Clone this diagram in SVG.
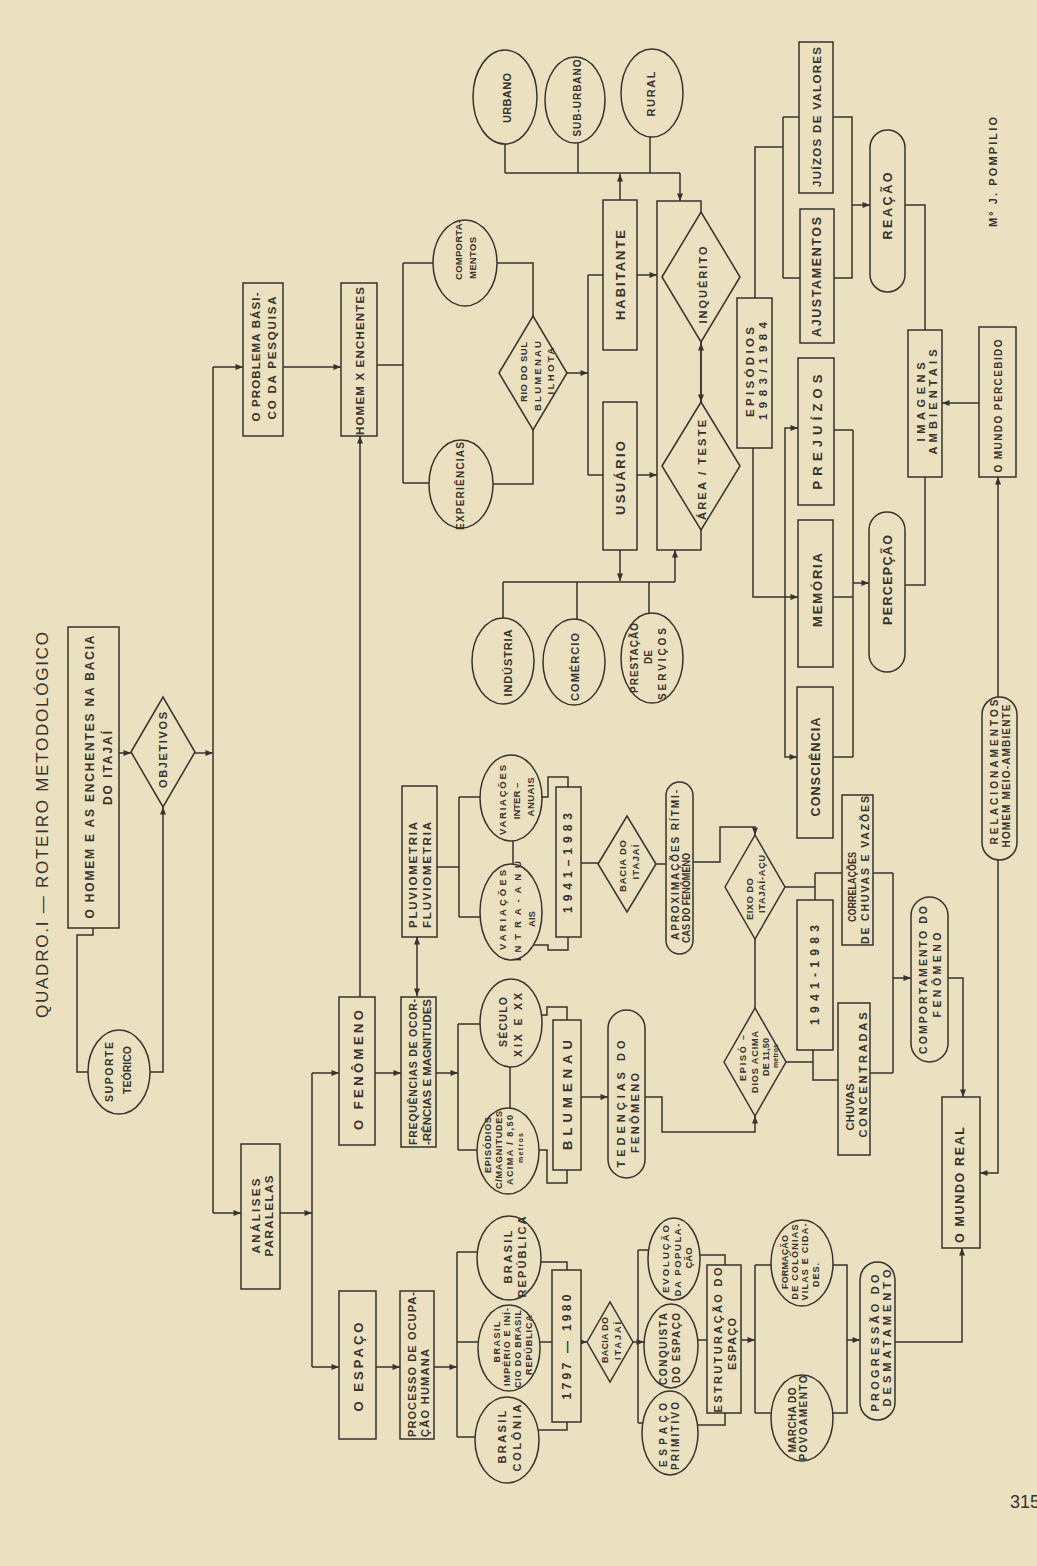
<svg xmlns="http://www.w3.org/2000/svg" width="1037" height="1566" viewBox="0 0 1037 1566">
<defs>
<style>
.s{fill:none;stroke:#37332e;stroke-width:1.5}
.n{fill:#ebe0c0;stroke:#37332e;stroke-width:1.5}
.f{fill:none;stroke:#37332e;stroke-width:1.5}
text{font-family:"Liberation Sans",Arial,sans-serif;font-weight:bold;fill:#37332e;text-anchor:middle;dominant-baseline:central}
</style>
<marker id="a" viewBox="0 0 10 8" refX="10" refY="4" markerWidth="8" markerHeight="6" markerUnits="userSpaceOnUse" orient="auto-start-reverse"><path d="M0,0L10,4L0,8z" fill="#37332e"/></marker>
</defs>
<rect width="1037" height="1566" fill="#ebe0c0"/>
<text transform="translate(42 825) rotate(-90)" font-size="17" font-weight="normal" style="font-weight:normal" textLength="386">QUADRO.I — ROTEIRO METODOLÓGICO</text>

<g id="connectors" class="s">
<path d="M119 753H131" marker-end="url(#a)"/>
<path d="M195 753H213" marker-end="url(#a)"/>
<path d="M213 367V1213"/>
<path d="M213 367H243" marker-end="url(#a)"/>
<path d="M213 1213H241" marker-end="url(#a)"/>
<path d="M283 367H341" marker-end="url(#a)"/>
<path d="M93 928V935H77V1072H88"/>
<path d="M150 1072H163V807" marker-end="url(#a)"/>
<path d="M280 1213H312" marker-end="url(#a)"/>
<path d="M312 1073V1367"/>
<path d="M312 1073H339" marker-end="url(#a)"/>
<path d="M312 1367H339" marker-end="url(#a)"/>
<path d="M360 997V436" marker-end="url(#a)"/>
<path d="M376 1367H400" marker-end="url(#a)"/>
<path d="M434 1367H457" marker-end="url(#a)"/>
<path d="M457 1252V1437M457 1252H477M457 1342H478M457 1437H476"/>
<path d="M541 1262H567V1270M539 1430H567V1422M540 1342H552"/>
<path d="M581 1342H587" marker-end="url(#a)"/>
<path d="M633 1342H644" marker-end="url(#a)"/>
<path d="M638 1250V1423M638 1250H648M638 1423H643"/>
<path d="M700 1255H725V1265M697 1425H725V1413M698 1340H707"/>
<path d="M741 1340H755" marker-end="url(#a)"/>
<path d="M755 1265V1413M755 1265H772M755 1413H772M833 1265H847V1413H833"/>
<path d="M847 1340H860" marker-end="url(#a)"/>
<path d="M895 1342H962V1248" marker-end="url(#a)"/>
<path d="M375 1073H401" marker-end="url(#a)"/>
<path d="M417 996V937" marker-start="url(#a)" marker-end="url(#a)"/>
<path d="M436 1073H458" marker-end="url(#a)"/>
<path d="M458 1024V1150M458 1024H480M458 1150H477M510 1067V1108"/>
<path d="M541 1015H547V1007H567V1020M538 1150H547V1183H567V1170"/>
<path d="M581 1097H608" marker-end="url(#a)"/>
<path d="M645 1097H662V1132H755V1116" marker-end="url(#a)"/>
<path d="M755 1008V939M786 1062H813M813 1050V1080H838M785 887H815M815 873V900M815 873H842"/>
<path d="M693 862H720V827H755V835" marker-end="url(#a)"/>
<path d="M656 864H666M581 863H598M437 867H459M459 797V917M459 797H480M459 917H480M513 841V864"/>
<path d="M542 797H548V777H568V787M534 945H548V950H568V937"/>
<path d="M873 873H893M870 1073H893M893 873V1073"/>
<path d="M893 978H911" marker-end="url(#a)"/>
<path d="M948 978H963V1097" marker-end="url(#a)"/>
<path d="M998 860V1173H980" marker-end="url(#a)"/>
<path d="M998 697V477" marker-end="url(#a)"/>
<path d="M979 403H942" marker-end="url(#a)"/>
<path d="M925 477V585H905M905 205H925V330M833 117H852V278H834"/>
<path d="M852 205H870" marker-end="url(#a)"/>
<path d="M755 298V147H783M783 117V278M783 117H799M783 278H800"/>
<path d="M753 448V597H798" marker-end="url(#a)"/>
<path d="M785 597V428H798" marker-end="url(#a)"/>
<path d="M785 597V757H797" marker-end="url(#a)"/>
<path d="M834 430H853M833 757H853M853 430V757M833 597H853"/>
<path d="M853 583H869" marker-end="url(#a)"/>
<path d="M620 200V174" marker-end="url(#a)"/>
<path d="M505 173H680M505 144V173M578 143V173M650 137V173"/>
<path d="M680 173V201" marker-end="url(#a)"/>
<path d="M620 550V581" marker-end="url(#a)"/>
<path d="M503 582H675M503 618V582M577 619V582M649 613V582"/>
<path d="M675 582V550" marker-end="url(#a)"/>
<path d="M567 373H588" marker-end="url(#a)"/>
<path d="M588 275V475M588 275H603M588 475H603"/>
<path d="M637 275H657" marker-end="url(#a)"/>
<path d="M637 475H657" marker-end="url(#a)"/>
<path d="M701 343V402" marker-start="url(#a)" marker-end="url(#a)"/>
<path d="M377 365H403M403 263V483M403 263H433M403 483H429M497 263H533V316M493 484H533V430"/>
</g>

<g id="n_homem_bacia"><rect class="n" x="68" y="627" width="51" height="301"/>
<text transform="translate(90 777) rotate(-90)" font-size="12" textLength="283">O HOMEM E AS ENCHENTES NA BACIA</text>
<text transform="translate(108 768) rotate(-90)" font-size="12" textLength="74">DO ITAJAÍ</text></g>
<g id="n_objetivos"><polygon class="n" points="131,752 163,697 195,752 163,807"/>
<text transform="translate(163 750) rotate(-90)" font-size="11" textLength="76">OBJETIVOS</text></g>
<g id="n_suporte"><ellipse class="n" cx="119" cy="1072" rx="31" ry="42"/>
<text transform="translate(109 1072) rotate(-90)" font-size="10.5" textLength="60">SUPORTE</text>
<text transform="translate(127 1070) rotate(-90)" font-size="10.5" textLength="48">TEÓRICO</text></g>
<g id="n_problema"><rect class="n" x="243" y="283" width="40" height="153"/>
<text transform="translate(256 357) rotate(-90)" font-size="11.5" textLength="129">O PROBLEMA BÁSI-</text>
<text transform="translate(272 358) rotate(-90)" font-size="11.5" textLength="123">CO DA PESQUISA</text></g>
<g id="n_homem_x"><rect class="n" x="341" y="283" width="36" height="153"/>
<text transform="translate(360 361) rotate(-90)" font-size="11.5" textLength="148">HOMEM X ENCHENTES</text></g>
<g id="n_analises"><rect class="n" x="241" y="1144" width="39" height="145"/>
<text transform="translate(256 1216) rotate(-90)" font-size="11.5" textLength="75">ANÁLISES</text>
<text transform="translate(269 1216) rotate(-90)" font-size="11.5" textLength="81">PARALELAS</text></g>
<g id="n_fenomeno"><rect class="n" x="339" y="997" width="36" height="148"/>
<text transform="translate(358 1070) rotate(-90)" font-size="13" textLength="120">O FENÔMENO</text></g>
<g id="n_espaco"><rect class="n" x="339" y="1291" width="37" height="148"/>
<text transform="translate(358 1367) rotate(-90)" font-size="13" textLength="89">O ESPAÇO</text></g>
<g id="n_processo"><rect class="n" x="400" y="1291" width="34" height="148"/>
<text transform="translate(412 1437) rotate(-90)" font-size="11" textLength="145" style="text-anchor:start">PROCESSO DE OCUPA-</text>
<text transform="translate(425 1437) rotate(-90)" font-size="11" textLength="88" style="text-anchor:start">ÇÃO HUMANA</text></g>
<g id="n_frequencias"><rect class="n" x="401" y="997" width="35" height="150"/>
<text transform="translate(413 1072) rotate(-90)" font-size="10.5" textLength="146">FREQUÊNCIAS DE OCOR-</text>
<text transform="translate(427 1072) rotate(-90)" font-size="10.5" textLength="146" lengthAdjust="spacingAndGlyphs">-RÊNCIAS E MAGNITUDES</text></g>
<g id="n_pluviometria"><rect class="n" x="402" y="786" width="35" height="151"/>
<text transform="translate(413 875) rotate(-90)" font-size="11.5" textLength="106">PLUVIOMETRIA</text>
<text transform="translate(427 875) rotate(-90)" font-size="11.5" textLength="106">FLUVIOMETRIA</text></g>
<g id="n_var_inter"><ellipse class="n" cx="511" cy="798" rx="31" ry="43"/>
<text transform="translate(502 800) rotate(-90)" font-size="9.5" textLength="70">VARIAÇÕES</text>
<text transform="translate(516 801) rotate(-90)" font-size="9.5">INTER –</text>
<text transform="translate(530 797) rotate(-90)" font-size="9.5" textLength="39">ANUAIS</text></g>
<g id="n_var_intra"><ellipse class="n" cx="511" cy="912" rx="31" ry="48"/>
<text transform="translate(502 910) rotate(-90)" font-size="9.5" textLength="80">VARIAÇÕES</text>
<text transform="translate(517 911) rotate(-90)" font-size="9.5" textLength="100">INTRA-ANU</text>
<text transform="translate(531 919) rotate(-90)" font-size="9.5">AIS</text></g>
<g id="n_1941a"><rect class="n" x="556" y="787" width="25" height="150"/>
<text transform="translate(568 863) rotate(-90)" font-size="12" textLength="100">1941–1983</text></g>
<g id="n_bacia_upper"><polygon class="n" points="598,864 627,816 656,864 627,912"/>
<text transform="translate(622 866) rotate(-90)" font-size="9.5" textLength="52">BACIA DO</text>
<text transform="translate(635 862) rotate(-90)" font-size="9.5" textLength="35">ITAJAÍ</text></g>
<g id="n_aproximacoes"><rect class="n" x="666" y="782" width="27" height="172" rx="13.5" ry="13.5"/>
<text transform="translate(675 865) rotate(-90)" font-size="10" textLength="150">APROXIMAÇÕES RÍTMI-</text>
<text transform="translate(686 943) rotate(-90)" font-size="10" textLength="90" lengthAdjust="spacingAndGlyphs" style="text-anchor:start">CAS DO FENÔMENO</text></g>
<g id="n_eixo"><polygon class="n" points="725,887 755,835 785,887 755,939"/>
<text transform="translate(749 899) rotate(-90)" font-size="9.5" textLength="42">EIXO DO</text>
<text transform="translate(762 884) rotate(-90)" font-size="9" textLength="58">ITAJAÍ-AÇU</text></g>
<g id="n_1941b"><rect class="n" x="797" y="900" width="36" height="150"/>
<text transform="translate(815 975) rotate(-90)" font-size="12" textLength="100">1941-1983</text></g>
<g id="n_correlacoes"><rect class="n" x="842" y="795" width="31" height="150"/>
<text transform="translate(852 887) rotate(-90)" font-size="10" textLength="70" lengthAdjust="spacingAndGlyphs">CORRELAÇÕES</text>
<text transform="translate(865 870) rotate(-90)" font-size="10.5" textLength="148">DE CHUVAS E VAZÕES</text></g>
<g id="n_episodios_acima"><polygon class="n" points="724,1062 755,1008 786,1062 755,1116"/>
<text transform="translate(743 1058) rotate(-90)" font-size="9" textLength="46">EPISÓ –</text>
<text transform="translate(755 1062) rotate(-90)" font-size="9" textLength="62">DIOS ACIMA</text>
<text transform="translate(766 1057) rotate(-90)" font-size="9" textLength="38">DE 11,50</text>
<text transform="translate(775 1056) rotate(-90)" font-size="7" textLength="24">metros</text></g>
<g id="n_chuvas"><rect class="n" x="838" y="1003" width="32" height="152"/>
<text transform="translate(850 1107) rotate(-90)" font-size="11" textLength="47">CHUVAS</text>
<text transform="translate(863 1075) rotate(-90)" font-size="11" textLength="125">CONCENTRADAS</text></g>
<g id="n_comportamento"><rect class="n" x="911" y="897" width="37" height="165" rx="18.5" ry="18.5"/>
<text transform="translate(923 980) rotate(-90)" font-size="10.5" textLength="148">COMPORTAMENTO DO</text>
<text transform="translate(937 975) rotate(-90)" font-size="10.5" textLength="85">FENÔMENO</text></g>
<g id="n_tedencias"><rect class="n" x="608" y="1010" width="37" height="168" rx="18.5" ry="18.5"/>
<text transform="translate(621 1104) rotate(-90)" font-size="11" textLength="127">TEDENÇIAS DO</text>
<text transform="translate(635 1113) rotate(-90)" font-size="11" textLength="80">FENÔMENO</text></g>
<g id="n_blumenau"><rect class="n" x="553" y="1020" width="28" height="150"/>
<text transform="translate(567 1095) rotate(-90)" font-size="13" textLength="110">BLUMENAU</text></g>
<g id="n_seculo"><ellipse class="n" cx="511" cy="1023" rx="31" ry="44"/>
<text transform="translate(503 1022) rotate(-90)" font-size="10.5" textLength="50">SÉCULO</text>
<text transform="translate(518 1025) rotate(-90)" font-size="10.5" textLength="64">XIX E XX</text></g>
<g id="n_episodios_mag"><ellipse class="n" cx="508" cy="1151" rx="31" ry="43"/>
<text transform="translate(488 1145) rotate(-90)" font-size="9" textLength="56">EPISÓDIOS</text>
<text transform="translate(499 1150) rotate(-90)" font-size="9" textLength="78">C/MAGNITUDES</text>
<text transform="translate(510 1150) rotate(-90)" font-size="9" textLength="70">ACIMA / 8,50</text>
<text transform="translate(520 1148) rotate(-90)" font-size="7" textLength="30">metros</text></g>
<g id="n_colonia"><ellipse class="n" cx="507" cy="1440" rx="32" ry="43"/>
<text transform="translate(502 1437) rotate(-90)" font-size="11" textLength="53">BRASIL</text>
<text transform="translate(517 1438) rotate(-90)" font-size="11" textLength="67">COLÔNIA</text></g>
<g id="n_imperio"><ellipse class="n" cx="509" cy="1348" rx="31" ry="43"/>
<text transform="translate(497 1342) rotate(-90)" font-size="9" textLength="41">BRASIL</text>
<text transform="translate(507 1347) rotate(-90)" font-size="9" textLength="78">IMPÉRIO E INÍ-</text>
<text transform="translate(518 1349) rotate(-90)" font-size="9" textLength="78">CIO DO BRASIL</text>
<text transform="translate(529 1345) rotate(-90)" font-size="9" textLength="60">REPÚBLICA</text></g>
<g id="n_republica"><ellipse class="n" cx="509" cy="1258" rx="32" ry="42"/>
<text transform="translate(508 1257) rotate(-90)" font-size="11" textLength="53">BRASIL</text>
<text transform="translate(522 1257) rotate(-90)" font-size="11" textLength="81">REPÚBLICA</text></g>
<g id="n_1797"><rect class="n" x="552" y="1270" width="29" height="152"/>
<text transform="translate(567 1347) rotate(-90)" font-size="12" textLength="105">1797 — 1980</text></g>
<g id="n_bacia_lower"><polygon class="n" points="587,1342 610,1302 633,1342 610,1382"/>
<text transform="translate(605 1340) rotate(-90)" font-size="9" textLength="46">BACIA DO</text>
<text transform="translate(618 1341) rotate(-90)" font-size="9" textLength="38">ITAJAÍ</text></g>
<g id="n_esp_primitivo"><ellipse class="n" cx="670" cy="1433" rx="28" ry="42"/>
<text transform="translate(663 1435) rotate(-90)" font-size="10" textLength="64">ESPAÇO</text>
<text transform="translate(675 1436) rotate(-90)" font-size="10" textLength="68">PRIMITIVO</text></g>
<g id="n_conquista"><ellipse class="n" cx="671" cy="1346" rx="27" ry="42"/>
<text transform="translate(663 1349) rotate(-90)" font-size="10" textLength="72">CONQUISTA</text>
<text transform="translate(676 1348) rotate(-90)" font-size="10" textLength="70">DO ESPAÇO</text></g>
<g id="n_evolucao"><ellipse class="n" cx="674" cy="1259" rx="26" ry="41"/>
<text transform="translate(665 1259) rotate(-90)" font-size="9.5" textLength="68">EVOLUÇÃO</text>
<text transform="translate(677 1260) rotate(-90)" font-size="9.5" textLength="73">DA POPULA-</text>
<text transform="translate(688 1258) rotate(-90)" font-size="9.5">ÇÃO</text></g>
<g id="n_estruturacao"><rect class="n" x="707" y="1265" width="34" height="148"/>
<text transform="translate(718 1340) rotate(-90)" font-size="11" textLength="145">ESTRUTURAÇÃO DO</text>
<text transform="translate(732 1344) rotate(-90)" font-size="11" textLength="52">ESPAÇO</text></g>
<g id="n_formacao"><ellipse class="n" cx="802" cy="1263" rx="31" ry="43"/>
<text transform="translate(785 1262) rotate(-90)" font-size="9" textLength="54">FORMAÇÃO</text>
<text transform="translate(795 1262) rotate(-90)" font-size="9" textLength="75">DE COLÔNIAS</text>
<text transform="translate(805 1262) rotate(-90)" font-size="9" textLength="77">VILAS E CIDA-</text>
<text transform="translate(816 1275) rotate(-90)" font-size="9" textLength="24">DES.</text></g>
<g id="n_marcha"><ellipse class="n" cx="802" cy="1418" rx="31" ry="43"/>
<text transform="translate(792 1420) rotate(-90)" font-size="10" textLength="65">MARCHA DO</text>
<text transform="translate(803 1418) rotate(-90)" font-size="10" textLength="85">POVOAMENTO</text></g>
<g id="n_progressao"><rect class="n" x="860" y="1262" width="35" height="158" rx="17.5" ry="17.5"/>
<text transform="translate(875 1343) rotate(-90)" font-size="11" textLength="137">PROGRESSÃO DO</text>
<text transform="translate(887 1338) rotate(-90)" font-size="11" textLength="137">DESMATAMENTO</text></g>
<g id="n_mundo_real"><rect class="n" x="942" y="1097" width="38" height="151"/>
<text transform="translate(960 1185) rotate(-90)" font-size="12.5" textLength="116">O MUNDO REAL</text></g>
<g id="n_comportamentos"><ellipse class="n" cx="465" cy="263" rx="32" ry="43"/>
<text transform="translate(458 250) rotate(-90)" font-size="9.5" textLength="60">COMPORTA-</text>
<text transform="translate(472 258) rotate(-90)" font-size="9.5" textLength="42">MENTOS</text></g>
<g id="n_experiencias"><ellipse class="n" cx="461" cy="484" rx="32" ry="44"/>
<text transform="translate(460 486) rotate(-90)" font-size="10" textLength="88">EXPERIÊNCIAS</text></g>
<g id="n_rio"><polygon class="n" points="499,373 533,316 567,373 533,430"/>
<text transform="translate(523 372) rotate(-90)" font-size="9.5" textLength="60">RIO DO SUL</text>
<text transform="translate(537 376) rotate(-90)" font-size="9.5" textLength="70">BLUMENAU</text>
<text transform="translate(550 371) rotate(-90)" font-size="9.5" textLength="47">ILHOTA</text></g>
<g id="n_habitante"><rect class="n" x="603" y="200" width="34" height="150"/>
<text transform="translate(620 275) rotate(-90)" font-size="13" textLength="90">HABITANTE</text></g>
<g id="n_usuario"><rect class="n" x="603" y="402" width="34" height="148"/>
<text transform="translate(620 478) rotate(-90)" font-size="13" textLength="74">USUÁRIO</text></g>
<g id="n_urbano"><ellipse class="n" cx="505" cy="97" rx="32" ry="47"/>
<text transform="translate(507 98) rotate(-90)" font-size="11" textLength="50">URBANO</text></g>
<g id="n_suburbano"><ellipse class="n" cx="575" cy="100" rx="30" ry="43"/>
<text transform="translate(577 98) rotate(-90)" font-size="10" textLength="77">SUB-URBANO</text></g>
<g id="n_rural"><ellipse class="n" cx="652" cy="93" rx="31" ry="44"/>
<text transform="translate(651 94) rotate(-90)" font-size="11" textLength="45">RURAL</text></g>
<g id="n_frame"><rect class="f" x="657" y="201" width="44" height="349"/></g>
<g id="n_inquerito"><polygon class="n" points="662,277 701,212 740,277 701,342"/>
<text transform="translate(703 285) rotate(-90)" font-size="11" textLength="77">INQUÉRITO</text></g>
<g id="n_area"><polygon class="n" points="662,466 701,402 740,466 701,530"/>
<text transform="translate(702 470) rotate(-90)" font-size="11" textLength="100">ÁREA / TESTE</text></g>
<g id="n_episodios8384"><rect class="n" x="737" y="298" width="35" height="150"/>
<text transform="translate(750 372) rotate(-90)" font-size="11.5" textLength="90">EPISÓDIOS</text>
<text transform="translate(763 371) rotate(-90)" font-size="11.5" textLength="98">1983/1984</text></g>
<g id="n_juizos"><rect class="n" x="799" y="42" width="34" height="151"/>
<text transform="translate(817 117) rotate(-90)" font-size="11.5" textLength="140">JUÍZOS DE VALORES</text></g>
<g id="n_ajustamentos"><rect class="n" x="800" y="209" width="34" height="134"/>
<text transform="translate(817 277) rotate(-90)" font-size="12.5" textLength="120">AJUSTAMENTOS</text></g>
<g id="n_prejuizos"><rect class="n" x="798" y="358" width="36" height="147"/>
<text transform="translate(817 432) rotate(-90)" font-size="13" textLength="115">PREJUÍZOS</text></g>
<g id="n_reacao"><rect class="n" x="870" y="130" width="35" height="162" rx="17.5" ry="17.5"/>
<text transform="translate(888 206) rotate(-90)" font-size="12.5" textLength="67">REAÇÃO</text></g>
<g id="n_imagens"><rect class="n" x="908" y="330" width="34" height="147"/>
<text transform="translate(921 402) rotate(-90)" font-size="11" textLength="79">IMAGENS</text>
<text transform="translate(933 402) rotate(-90)" font-size="11" textLength="105">AMBIENTAIS</text></g>
<g id="n_mundo_percebido"><rect class="n" x="979" y="327" width="37" height="150"/>
<text transform="translate(998 406) rotate(-90)" font-size="10" textLength="133">O MUNDO PERCEBIDO</text></g>
<g id="n_memoria"><rect class="n" x="798" y="520" width="35" height="147"/>
<text transform="translate(817 590) rotate(-90)" font-size="13" textLength="74">MEMÓRIA</text></g>
<g id="n_percepcao"><rect class="n" x="869" y="512" width="36" height="160" rx="18" ry="18"/>
<text transform="translate(888 580) rotate(-90)" font-size="12.5" textLength="90">PERCEPÇÃO</text></g>
<g id="n_consciencia"><rect class="n" x="797" y="687" width="36" height="151"/>
<text transform="translate(816 767) rotate(-90)" font-size="12.5" textLength="99">CONSCIÊNCIA</text></g>
<g id="n_relacionamentos"><rect class="n" x="982" y="697" width="35" height="163" rx="17.5" ry="17.5"/>
<text transform="translate(994 772) rotate(-90)" font-size="10" textLength="145">RELACIONAMENTOS</text>
<text transform="translate(1006 776) rotate(-90)" font-size="10" textLength="143">HOMEM  MEIO-AMBIENTE</text></g>
<g id="n_industria"><ellipse class="n" cx="503" cy="661" rx="31" ry="43"/>
<text transform="translate(508 663) rotate(-90)" font-size="11" textLength="67">INDÚSTRIA</text></g>
<g id="n_comercio"><ellipse class="n" cx="574" cy="662" rx="31" ry="43"/>
<text transform="translate(575 667) rotate(-90)" font-size="11" textLength="68">COMÉRCIO</text></g>
<g id="n_prestacao"><ellipse class="n" cx="652" cy="658" rx="31" ry="45"/>
<text transform="translate(634 658) rotate(-90)" font-size="10" textLength="70">PRESTAÇÃO</text>
<text transform="translate(648 657) rotate(-90)" font-size="10">DE</text>
<text transform="translate(662 664) rotate(-90)" font-size="10" textLength="72">SERVIÇOS</text></g>
<text transform="translate(993 172) rotate(-90)" font-size="11" textLength="110">Mº J. POMPILIO</text>
<text x="1010" y="1508" font-size="18" style="font-weight:normal;text-anchor:start;dominant-baseline:auto">315</text>
</svg>
